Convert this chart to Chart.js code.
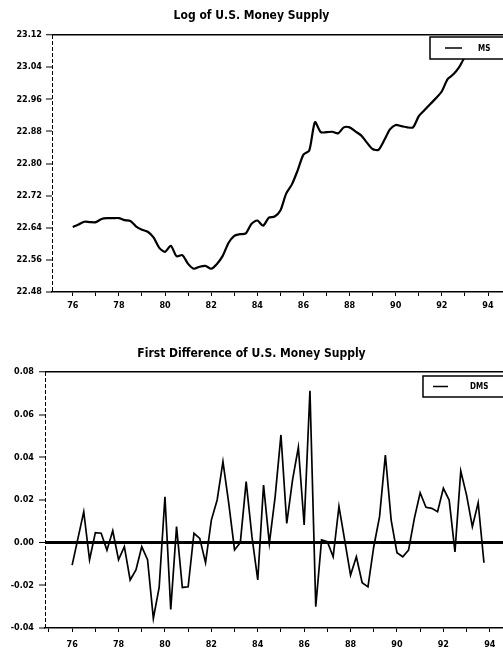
<!DOCTYPE html>
<html>
<head>
<meta charset="utf-8">
<script src="https://cdn.jsdelivr.net/npm/chart.js@4.4.1/dist/chart.umd.min.js"></script>
<style>
  body { margin: 0; background: #fff; overflow: hidden; }
  #wrap { position: relative; width: 503px; height: 653px; }
  canvas { position: absolute; left: 0; }
  #top { top: 0; }
  #bottom { top: 320px; }
</style>
</head>
<body>
<div id="wrap">
  <canvas id="top" width="503" height="320"></canvas>
  <canvas id="bottom" width="503" height="333"></canvas>
</div>
<script>
// quarterly series, first quarter of 1976 through last quarter of 1993
const startYear = 76
const logMS = [22.642, 22.648, 22.655, 22.654, 22.654, 22.662, 22.664, 22.664, 22.664, 22.659,
               22.657, 22.643, 22.635, 22.630, 22.616, 22.590, 22.580, 22.595, 22.569, 22.572,
               22.550, 22.538, 22.543, 22.545, 22.538, 22.550, 22.570, 22.602, 22.620, 22.624,
               22.626, 22.650, 22.658, 22.645, 22.665, 22.668, 22.683, 22.725, 22.748, 22.783,
               22.822, 22.832, 22.903, 22.878, 22.878, 22.879, 22.875, 22.890, 22.890, 22.880,
               22.870, 22.852, 22.836, 22.834, 22.858, 22.885, 22.896, 22.893, 22.890, 22.890,
               22.918, 22.933, 22.948, 22.963, 22.980, 23.010, 23.022, 23.040, 23.065, 23.075,
               23.085, 23.100]
const dMS = [-0.0105, 0.002, 0.0145, -0.008, 0.0047, 0.0044, -0.0035, 0.0056, -0.008, -0.0019,
             -0.0175, -0.0128, -0.0019, -0.008, -0.0355, -0.021, 0.0215, -0.0313, 0.0075, -0.021,
             -0.0207, 0.0044, 0.002, -0.0094, 0.0106, 0.020, 0.038, 0.0184, -0.0034, 0.0001,
             0.0286, 0.0028, -0.0175, 0.027, -0.0003, 0.0216, 0.0505, 0.009, 0.0294, 0.0447,
             0.0083, 0.0712, -0.030, 0.0013, 0.0005, -0.0066, 0.017, 0.001, -0.0152, -0.0066,
             -0.0188, -0.0207, -0.0019, 0.0122, 0.0411, 0.0106, -0.0047, -0.0066, -0.0035, 0.0114,
             0.0234, 0.0166, 0.0161, 0.0145, 0.0255, 0.020, -0.0043, 0.0336, 0.0223, 0.0075,
             0.0187, -0.0094]
const titles = ["Log of U.S. Money Supply", "First Difference of U.S. Money Supply"]
const seriesNames = ["MS", "DMS"]

const fontFam = "'Liberation Sans Narrow', 'DejaVu Sans Condensed', 'Liberation Sans', Arial, sans-serif"
const toPoints = (vals) => vals.map((v, i) => ({x: startYear + i / 4, y: v}))

// dashed left axis line (v4 border.dash only dashes the grid lines)
const dashedAxis = {
    id: "dashedAxis",
    beforeDatasetsDraw(chart) {
        const {ctx, chartArea} = chart
        ctx.save()
        ctx.strokeStyle = "#000"
        ctx.lineWidth = 1
        ctx.setLineDash([4, 2])
        ctx.beginPath()
        ctx.moveTo(chartArea.left + 0.5, chartArea.top)
        ctx.lineTo(chartArea.left + 0.5, chartArea.bottom)
        ctx.stroke()
        ctx.restore()
    }
}

// white legend box drawn inside the plot, on top of the line
const legendBox = {
    id: "legendBox",
    afterDatasetsDraw(chart, args, o) {
        const {ctx, chartArea} = chart
        const x = chartArea.right - o.width
        const y = chartArea.top + o.offset
        ctx.save()
        ctx.fillStyle = "#fff"
        ctx.fillRect(x, y, o.width + 4, o.height)
        ctx.strokeStyle = "#000"
        ctx.lineWidth = 1.5
        ctx.strokeRect(x, y, o.width + 4, o.height)
        ctx.beginPath()
        ctx.moveTo(x + o.lineFrom, y + o.height / 2)
        ctx.lineTo(x + o.lineTo, y + o.height / 2)
        ctx.lineWidth = 1.5
        ctx.stroke()
        ctx.fillStyle = "#000"
        ctx.font = "bold 8px " + fontFam
        ctx.textBaseline = "middle"
        ctx.fillText(chart.data.datasets[0].label, x + o.textX, y + o.height / 2 + 0.5)
        ctx.restore()
    }
}

function makeChart(el, cfg) {
    return new Chart(el, {
        type: "line",
        plugins: [dashedAxis, legendBox],
        data: {
            datasets: [{
                label: cfg.name,
                data: toPoints(cfg.values),
                borderColor: "#000",
                borderWidth: cfg.lineWidth,
                pointRadius: 0,
                tension: cfg.tension,
                fill: false
            }]
        },
        options: {
            responsive: false,
            animation: false,
            layout: {padding: {top: cfg.padTop, bottom: cfg.padBottom, left: 0, right: 0}},
            plugins: {
                legend: {display: false},
                tooltip: {enabled: false},
                title: {
                    display: true,
                    text: cfg.title,
                    color: "#000",
                    font: {family: fontFam, size: 12, weight: "bold"},
                    padding: {top: 0, bottom: cfg.titleGap}
                },
                legendBox: cfg.legend
            },
            scales: {
                x: {
                    type: "linear",
                    min: cfg.xMin,
                    max: cfg.xMax,
                    grid: {display: true, drawOnChartArea: false, drawTicks: true, tickLength: 4, tickColor: "#000", tickWidth: 1},
                    border: {display: true, color: "#000", width: 1.5},
                    ticks: {
                        stepSize: 1,
                        includeBounds: false,
                        autoSkip: false,
                        maxRotation: 0,
                        padding: cfg.xPad,
                        color: "#000",
                        font: {family: fontFam, size: 9, weight: "bold"},
                        callback: (v) => (v % 2 === 0 ? String(v) : "")
                    }
                },
                y: {
                    min: cfg.yMin,
                    max: cfg.yMax,
                    afterFit: (s) => { s.width = cfg.axisLeft },
                    grid: {
                        color: (c) => (c.tick && cfg.lines.some(l => Math.abs(c.tick.value - l.v) < 1e-6) ? "#000" : "rgba(0,0,0,0)"),
                        lineWidth: (c) => {
                            const l = c.tick && cfg.lines.find(l => Math.abs(c.tick.value - l.v) < 1e-6)
                            return l ? l.w : 0
                        },
                        tickColor: "#000",
                        tickWidth: 1,
                        tickLength: 6
                    },
                    border: {display: false},
                    ticks: {
                        stepSize: cfg.yStep,
                        padding: cfg.tickPad,
                        color: "#000",
                        font: {family: fontFam, size: 9, weight: "bold"},
                        callback: (v) => (Math.abs(v) < 1e-9 ? 0 : v).toFixed(2)
                    }
                }
            }
        }
    })
}

makeChart(document.querySelector("#top"), {
    name: seriesNames[0], values: logMS, title: titles[0],
    lineWidth: 2.2, tension: 0.25,
    padTop: 8.6, titleGap: 12, padBottom: 4, xPad: 4.6,
    xMin: 75.1, xMax: 94.65, yMin: 22.48, yMax: 23.12, yStep: 0.08,
    axisLeft: 52, tickPad: 4,
    lines: [{v: 23.12, w: 1.5}],
    legend: {width: 73, offset: 2, height: 22, lineFrom: 15, lineTo: 32, textX: 48}
})

makeChart(document.querySelector("#bottom"), {
    name: seriesNames[1], values: dMS, title: titles[1],
    lineWidth: 1.7, tension: 0,
    padTop: 26.8, titleGap: 10.8, padBottom: -5, xPad: 7.6,
    xMin: 74.83, xMax: 94.57, yMin: -0.04, yMax: 0.08, yStep: 0.02,
    axisLeft: 45, tickPad: 5,
    lines: [{v: 0.08, w: 1.5}, {v: 0, w: 3}],
    legend: {width: 80, offset: 4, height: 21, lineFrom: 10, lineTo: 25, textX: 47}
})
</script>
</body>
</html>
